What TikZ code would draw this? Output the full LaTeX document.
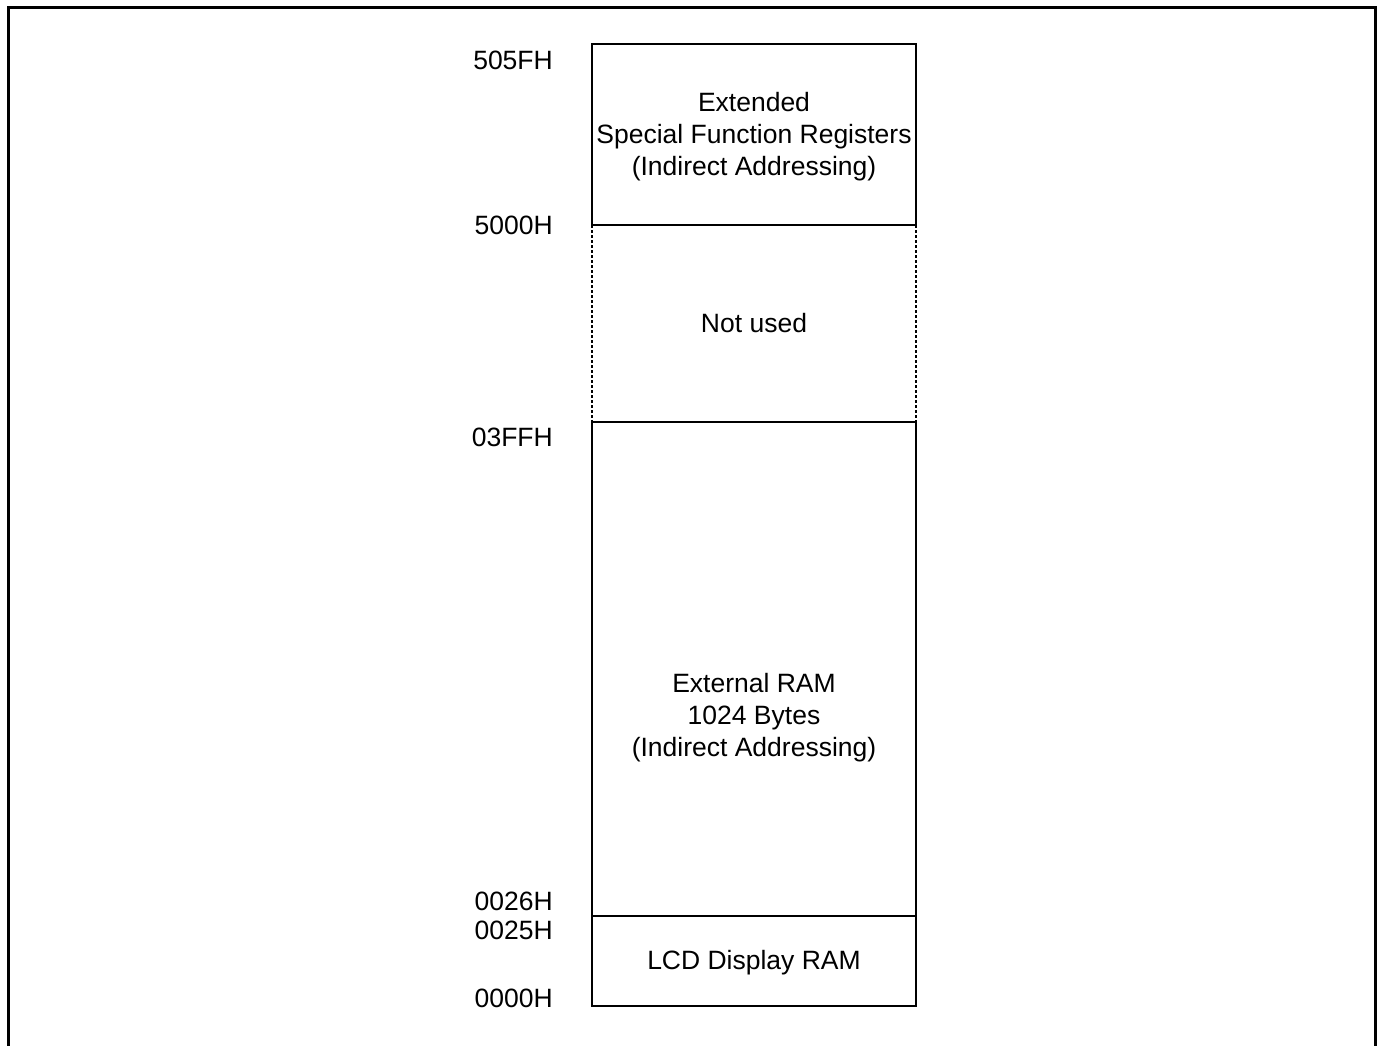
\documentclass[tikz,border=0pt]{standalone}
\usepackage{fontspec}
\setmainfont{Liberation Sans}
\begin{document}
\begin{tikzpicture}[x=1pt,y=-1pt,
  lbl/.style={anchor=east,inner sep=0pt,font=\fontsize{26.5}{32}\selectfont},
  txt/.style={align=center,inner sep=0pt,font=\fontsize{26.5}{32}\selectfont},
  boxline/.style={line width=1.6pt},
  dotline/.style={line width=1.6pt,dash pattern=on 2.5pt off 2.5pt}]
\useasboundingbox (0,0) rectangle (1381,1046);
% outer frame (open at bottom)
\draw[line width=3pt] (8,1046) -- (8,8) -- (1375,8) -- (1375,1046);
% memory map
\coordinate (tl) at (592,44);
\coordinate (tr) at (916,44);
\coordinate (al) at (592,225);
\coordinate (ar) at (916,225);
\coordinate (bl) at (592,422);
\coordinate (br) at (916,422);
\coordinate (cl) at (592,916);
\coordinate (cr) at (916,916);
\coordinate (dl) at (592,1006);
\coordinate (dr) at (916,1006);
\draw[boxline] (al) -- (tl) -- (tr) -- (ar) -- cycle;
\draw[dotline] (al) -- (bl);
\draw[dotline] (ar) -- (br);
\draw[boxline] (bl) -- (br) -- (dr) -- (dl) -- cycle;
\draw[boxline] (cl) -- (cr);
% texts
\node[txt] (sfr) at (754,137) {Extended\\Special Function Registers\\(Indirect Addressing)};
\node[txt] (nu) at (754,323) {Not used};
\node[txt] (ram) at (754,718) {External RAM\\1024 Bytes\\(Indirect Addressing)};
\node[txt] (lcd) at (754,963) {LCD Display RAM};
% address labels
\node[lbl] (a1) at (553,60) {505FH};
\node[lbl] (a2) at (553,225) {5000H};
\node[lbl] (a3) at (553,437) {03FFH};
\node[lbl] (a4) at (553,901) {0026H};
\node[lbl] (a5) at (553,930) {0025H};
\node[lbl] (a6) at (553,998) {0000H};
\end{tikzpicture}
\end{document}
